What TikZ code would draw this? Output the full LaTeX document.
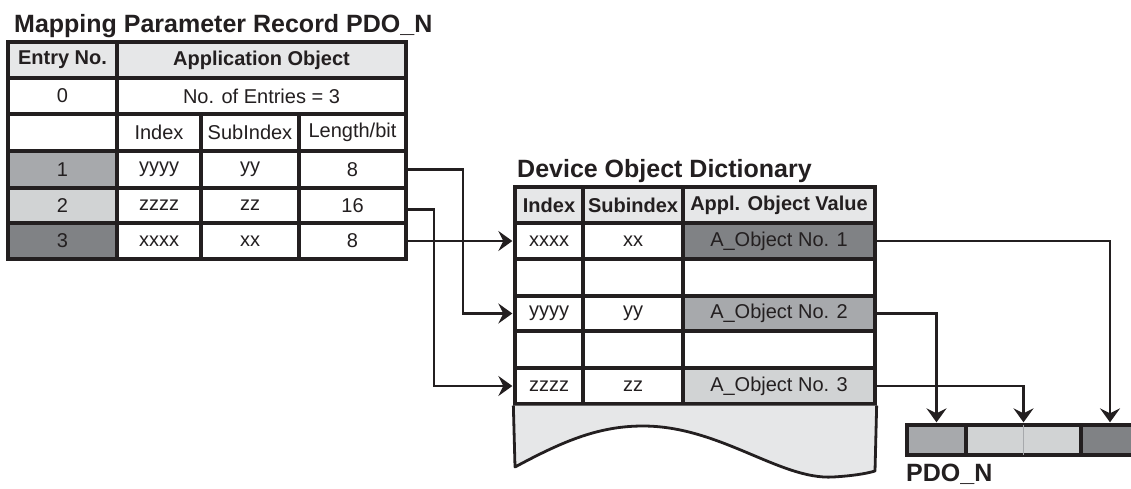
\documentclass[tikz,border=0pt]{standalone}
\usepackage{fontspec}
\setmainfont{Liberation Sans}
\usetikzlibrary{arrows.meta}
\definecolor{inkblack}{HTML}{231F20}
\definecolor{cellhead}{HTML}{E6E7E8}
\definecolor{celllight}{HTML}{D1D3D4}
\definecolor{cellmid}{HTML}{A7A9AC}
\definecolor{celldark}{HTML}{808285}
\newcommand*{\mytablefont}{\fontsize{20}{24}\selectfont\color{inkblack}}
\newcommand*{\mytitlefont}{\fontsize{25}{30}\selectfont\bfseries\color{inkblack}}
\newcommand{\tabcell}[7]{%
% name, left, top, right, bottom, fill, text
  \pgfmathsetmacro{\cellx}{(#2+#4)/2}
  \pgfmathsetmacro{\celly}{(#3+#5)/2}
  \pgfmathsetmacro{\cellw}{#4-#2}
  \pgfmathsetmacro{\cellh}{#5-#3}
  \node[cell, fill=#6, minimum width=\cellw pt, minimum height=\cellh pt] (#1) at (\cellx,\celly) {#7};
}

\begin{document}
\begin{tikzpicture}[x=1pt, y=-1pt,
  cell/.style={draw=inkblack, line width=3.3pt, inner sep=0pt, font=\mytablefont},
  conn/.style={draw=inkblack, line width=2.7pt, shorten >=1pt,
    -{Stealth[length=14pt, width=20pt, inset=5pt]}},
  title/.style={anchor=base west, inner sep=0pt, font=\mytitlefont}]
  \useasboundingbox (0,0) rectangle (1131,488);

  \node[title] (maptitle) at (14,32) {Mapping Parameter Record PDO\_N};
  \node[title] (dodtitle) at (517,177) {Device Object Dictionary};
  \node[title] (pdotitle) at (906,481) {PDO\_N};

  \tabcell{mhead}{8}{42}{117}{78}{cellhead}{\bfseries Entry No.}
  \tabcell{mapp}{117}{42}{406}{78}{cellhead}{\bfseries Application Object}
  \tabcell{mzero}{8}{78}{117}{114}{white}{0}
  \tabcell{mnum}{117}{78}{406}{114}{white}{No. of Entries = 3}
  \tabcell{mblank}{8}{114}{117}{151}{white}{}
  \tabcell{mindex}{117}{114}{201}{151}{white}{Index}
  \tabcell{msub}{201}{114}{299}{151}{white}{SubIndex}
  \tabcell{mlen}{299}{114}{406}{151}{white}{Length/bit}
  \foreach \rw/\ya/\yb/\fc/\idx/\sub/\len in {1/151/188/cellmid/yyyy/yy/8,
      2/188/223/celllight/zzzz/zz/16, 3/223/259/celldark/xxxx/xx/8} {
    \tabcell{me\rw}{8}{\ya}{117}{\yb}{\fc}{\rw}
    \tabcell{mi\rw}{117}{\ya}{201}{\yb}{white}{\idx}
    \tabcell{ms\rw}{201}{\ya}{299}{\yb}{white}{\sub}
    \tabcell{ml\rw}{299}{\ya}{406}{\yb}{white}{\len}
  }

  \tabcell{dindex}{515}{187}{583}{223}{cellhead}{\bfseries Index}
  \tabcell{dsub}{583}{187}{683}{223}{cellhead}{\bfseries Subindex}
  \tabcell{dval}{683}{187}{875}{223}{cellhead}{\bfseries Appl. Object Value}
  \foreach \rw/\ya/\yb/\fc/\idx/\sub/\val in {1/223/259/celldark/xxxx/xx/A\_Object No. 1,
      2/259/296/white/{}/{}/{}, 3/296/331/cellmid/yyyy/yy/A\_Object No. 2,
      4/331/368/white/{}/{}/{}, 5/368/404/celllight/zzzz/zz/A\_Object No. 3} {
    \tabcell{di\rw}{515}{\ya}{583}{\yb}{white}{\idx}
    \tabcell{ds\rw}{583}{\ya}{683}{\yb}{white}{\sub}
    \tabcell{dv\rw}{683}{\ya}{875}{\yb}{\fc}{\val}
  }
  \filldraw[fill=cellhead, draw=inkblack, line width=2.8pt, line join=round]
    (di5.south west) -- (515,467) .. controls (565,440) and (600,426) .. (643,426)
    .. controls (720,426) and (780,480) .. (833,477)
    .. controls (850,476) and (865,474) .. (875,471) -- (dv5.south east);

  \tabcell{p1}{907}{425}{966}{455}{cellmid}{}
  \tabcell{p2}{966}{425}{1081}{455}{celllight}{}
  \tabcell{p3}{1081}{425}{1139}{455}{celldark}{}
  \draw[cellmid, line width=1pt] ([yshift=-1.6pt]p2.north) -- ([yshift=1.6pt]p2.south);

  \coordinate (k1) at (463,0);
  \coordinate (k2) at (434,0);
  \coordinate (o2) at ([yshift=-4pt]ml2.east);
  \draw[conn] (ml3.east) -- (di1.west);
  \draw[conn] (ml1.east) -- (ml1.east -| k1) |- (di3.west);
  \draw[conn] (o2) -- (o2 -| k2) |- (di5.west);
  \draw[conn] (dv1.east) -| (p3.north);
  \draw[conn] (dv3.east) -| (p1.north);
  \draw[conn] (dv5.east) -| (p2.north);
\end{tikzpicture}
\end{document}
